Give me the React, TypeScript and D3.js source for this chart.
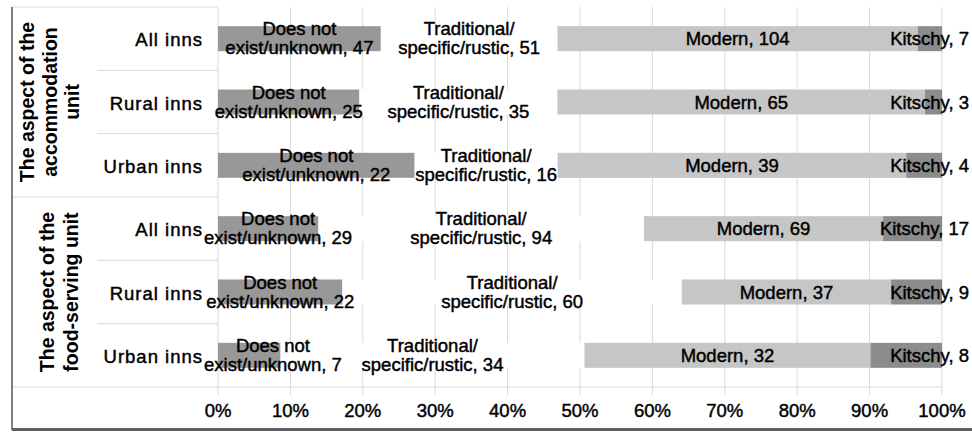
import * as d3 from "d3";

const rowLabels = ["All inns", "Rural inns", "Urban inns", "All inns", "Rural inns", "Urban inns"];
const groupLabels = [
  ["The aspect of the", "accommodation", "unit"],
  ["The aspect of the", "food-serving unit"],
];
const seriesKeys = ["doesNotExist", "traditional", "modern", "kitschy"];
const seriesLabelLines = [
  ["Does not", "exist/unknown"],
  ["Traditional/", "specific/rustic"],
  ["Modern"],
  ["Kitschy"],
];
const doesNotExist = [47, 25, 22, 29, 22, 7];
const traditional = [51, 35, 16, 94, 60, 34];
const modern = [104, 65, 39, 69, 37, 32];
const kitschy = [7, 3, 4, 17, 9, 8];
const xTicks = [0, 0.1, 0.2, 0.3, 0.4, 0.5, 0.6, 0.7, 0.8, 0.9, 1];

const W = 972;
const H = 432;
const colors = ["#989898", "#ffffff", "#c6c6c6", "#8c8c8c"];
const FONT = "'Liberation Sans', Arial, sans-serif";
const LABEL_SIZE = 18.5;
const AREA_LEFT = 204;
const AREA_RIGHT = 969;

// text width via canvas, to keep labels inside the chart area like Excel does
const measureCtx = document.createElement("canvas").getContext("2d");
const textWidth = (s: string, size: number) => {
  if (!measureCtx) return s.length * size * 0.5;
  measureCtx.font = `${size}px ${FONT}`;
  return measureCtx.measureText(s).width;
};

export default function App() {
  const rows = rowLabels.map((label, i) => ({
    idx: i,
    label,
    doesNotExist: doesNotExist[i],
    traditional: traditional[i],
    modern: modern[i],
    kitschy: kitschy[i],
  }));

  const stacked = d3
    .stack<any>()
    .keys(seriesKeys)
    .offset(d3.stackOffsetExpand)(rows);

  const x = d3.scaleLinear().domain([0, 1]).range([218, 942]);
  const y = d3
    .scaleBand<number>()
    .domain(rows.map((r) => r.idx))
    .range([7, 387])
    .paddingInner(0);
  const barH = 25;
  const step = y.step();
  const rowTop = (i: number) => 7 + i * step;

  const groupCenters = [(rowTop(0) + rowTop(3)) / 2, (rowTop(3) + rowTop(6)) / 2];
  const groupLineX = [
    [27, 50, 72],
    [47, 71],
  ];

  const ink = { fill: "#000", stroke: "#000", strokeWidth: 0.45 };
  const lastSeries = seriesKeys.length - 1;

  return (
    <svg
      width={W}
      height={H}
      style={{ position: "absolute", left: 0, top: 0, background: "#fff" }}
      fontFamily={FONT}
    >
      <rect x={0} y={0} width={W} height={H} fill="#fff" />

      {/* gridlines */}
      {xTicks.map((t) => (
        <line
          key={"g" + t}
          x1={x(t)}
          x2={x(t)}
          y1={7}
          y2={395}
          stroke="#d9d9d9"
          strokeWidth={1}
        />
      ))}

      {/* table lines in the label area */}
      <line x1={12} x2={218} y1={7} y2={7} stroke="#d9d9d9" />
      {[1, 2, 4, 5].map((i) => (
        <line key={"r" + i} x1={97} x2={218} y1={rowTop(i)} y2={rowTop(i)} stroke="#d9d9d9" />
      ))}
      <line x1={12} x2={218} y1={rowTop(3)} y2={rowTop(3)} stroke="#d9d9d9" />
      <line x1={12} x2={942} y1={rowTop(6)} y2={rowTop(6)} stroke="#d9d9d9" />

      {/* bars */}
      {stacked.map((s, si) =>
        s.map((d, i) => (
          <rect
            key={`b${si}-${i}`}
            x={x(d[0])}
            y={(y(i) as number) + step / 2 - barH / 2}
            width={x(d[1]) - x(d[0])}
            height={barH}
            fill={colors[si]}
          />
        ))
      )}

      {/* data labels */}
      {stacked.map((s, si) =>
        s.map((d, i) => {
          const val = (rows[i] as any)[seriesKeys[si]];
          const base = seriesLabelLines[si];
          const lines =
            base.length === 1 ? [`${base[0]}, ${val}`] : [base[0], `${base[1]}, ${val}`];
          const w = Math.max(...lines.map((l) => textWidth(l, LABEL_SIZE)));
          let cx = x((d[0] + d[1]) / 2);
          if (cx - w / 2 < AREA_LEFT) cx = AREA_LEFT + w / 2;
          // the thin last segment's label is pushed to the right edge of the chart area
          if (si === lastSeries || cx + w / 2 > AREA_RIGHT) cx = AREA_RIGHT - w / 2;
          const cy = (y(i) as number) + step / 2;
          if (lines.length === 1) {
            return (
              <text
                key={`l${si}-${i}`}
                x={cx}
                y={cy + 6.5}
                textAnchor="middle"
                fontSize={LABEL_SIZE}
                {...ink}
              >
                {lines[0]}
              </text>
            );
          }
          return (
            <text key={`l${si}-${i}`} textAnchor="middle" fontSize={LABEL_SIZE} {...ink}>
              <tspan x={cx} y={cy - 3.5}>
                {lines[0]}
              </tspan>
              <tspan x={cx} y={cy + 15.5}>
                {lines[1]}
              </tspan>
            </text>
          );
        })
      )}

      {/* row labels */}
      {rows.map((r) => (
        <text
          key={"c" + r.idx}
          x={203}
          y={(y(r.idx) as number) + step / 2 + 7.5}
          textAnchor="end"
          fontSize={18.5}
          letterSpacing={1}
          {...ink}
        >
          {r.label}
        </text>
      ))}

      {/* group labels */}
      {groupLabels.map((lines, gi) =>
        lines.map((ln, li) => (
          <text
            key={`gl${gi}-${li}`}
            transform={`translate(${groupLineX[gi][li]},${groupCenters[gi]}) rotate(-90)`}
            textAnchor="middle"
            dominantBaseline="central"
            fontSize={19.5}
            fontWeight="bold"
            fill="#000"
          >
            {ln}
          </text>
        ))
      )}

      {/* x tick labels */}
      {xTicks.map((t) => (
        <text key={"t" + t} x={x(t)} y={417} textAnchor="middle" fontSize={18.5} {...ink}>
          {d3.format(".0%")(t)}
        </text>
      ))}

      {/* frame */}
      <line x1={12} x2={12} y1={7} y2={430} stroke="#808080" strokeWidth={2} />
      <line x1={12} x2={W} y1={429.5} y2={429.5} stroke="#606060" strokeWidth={3} />
    </svg>
  );
}
